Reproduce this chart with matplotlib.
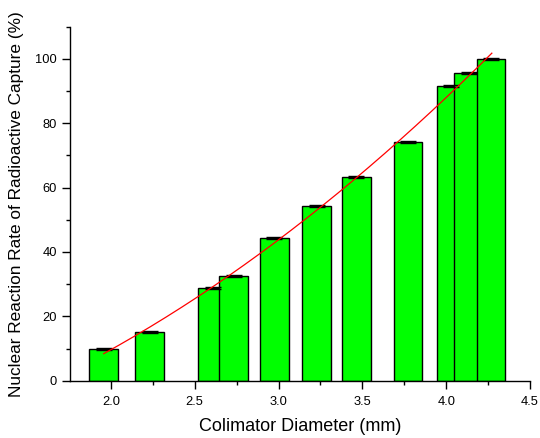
import numpy as np
import matplotlib
matplotlib.use("Agg")
import matplotlib.pyplot as plt
from matplotlib.ticker import MultipleLocator, FormatStrFormatter

plt.rcParams['font.family'] = ['Liberation Sans', 'DejaVu Sans']

diameters = [1.957, 2.232, 2.606, 2.732, 2.975, 3.228, 3.463, 3.772, 4.03, 4.133, 4.267]
rates = [9.8, 15.0, 28.7, 32.4, 44.4, 54.2, 63.3, 74.3, 91.7, 95.6, 100.0]
errors = [0.3] * len(rates)

fig = plt.figure(figsize=(5.4, 4.38), dpi=100)
ax = fig.add_axes([0.1296, 0.1308, 0.852, 0.8082])

for xd, yd, e in zip(diameters, rates, errors):
    ax.bar(xd, yd, width=0.172, color='#00FF00', edgecolor='black', linewidth=1.0, zorder=2)
    ax.errorbar(xd, yd, yerr=e, fmt='none', ecolor='black', elinewidth=1.0,
                capsize=6, capthick=1.0, zorder=3)

coef = np.polyfit(diameters, rates, 2)
xf = np.linspace(diameters[0], diameters[-1] + 0.005, 200)
ax.plot(xf, np.polyval(coef, xf), color='red', linewidth=0.9, zorder=4)

ax.set_xlim(1.756, 4.5)
ax.set_ylim(0, 110)
ax.xaxis.set_major_locator(MultipleLocator(0.5))
ax.xaxis.set_minor_locator(MultipleLocator(0.25))
ax.xaxis.set_major_formatter(FormatStrFormatter('%.1f'))
ax.yaxis.set_major_locator(MultipleLocator(20))
ax.yaxis.set_minor_locator(MultipleLocator(10))
ax.spines['top'].set_visible(False)
ax.spines['right'].set_visible(False)
for s in ['left', 'bottom']:
    ax.spines[s].set_linewidth(1.0)
ax.tick_params(which='major', direction='out', length=6, width=1.0, labelsize=9.3)
ax.tick_params(axis='x', which='major', pad=5)
ax.tick_params(which='minor', direction='out', length=3, width=1.0)
ax.set_xlabel('Colimator Diameter (mm)', fontsize=13, labelpad=7)
ax.set_ylabel('Nuclear Reaction Rate of Radioactive Capture (%)', fontsize=12.4, labelpad=8)

fig.savefig('out.png', dpi=100)
